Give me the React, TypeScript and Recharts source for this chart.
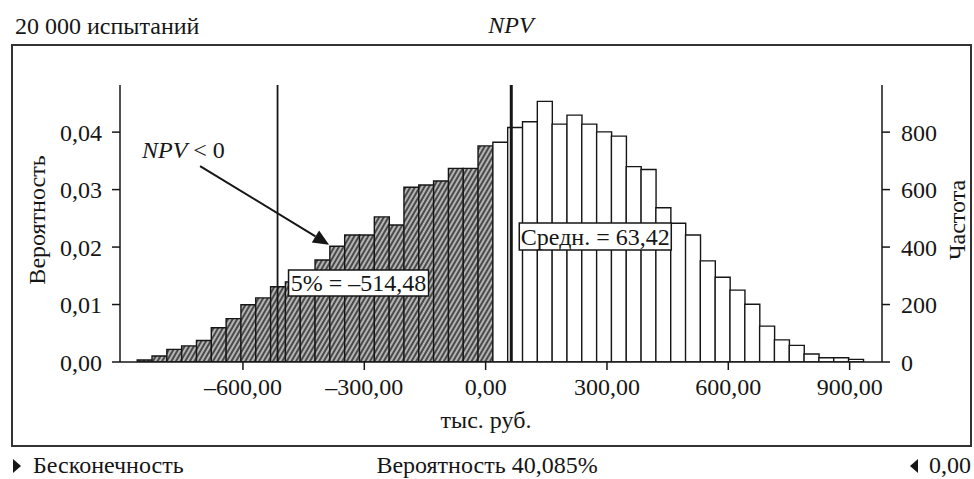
import React from 'react';
import {
  ComposedChart,
  Bar,
  Cell,
  XAxis,
  YAxis,
  ReferenceLine,
} from 'recharts';

// ---- data ----
const TRIALS = 20000;
// histogram bin centers (тыс. руб.)
const binCenters = [
  -843.2, -806.5, -769.9, -733.3, -696.6, -660.0, -623.3, -586.7, -550.1, -513.4,
  -476.8, -440.1, -403.5, -366.9, -330.2, -293.6, -256.9, -220.3, -183.7, -147.0,
  -110.4, -73.7, -37.1, -0.5, 36.2, 72.8, 109.5, 146.1, 182.7, 219.4,
  256.0, 292.7, 329.3, 365.9, 402.6, 439.2, 475.9, 512.5, 549.1, 585.8,
  622.4, 659.1, 695.7, 732.3, 769.0, 805.6, 842.3, 878.9, 915.5,
];
// frequency per bin (out of 20 000 trials)
const frequency = [
  7, 21, 44, 56, 75, 119, 151, 199, 223, 262,
  279, 300, 355, 403, 442, 442, 505, 477, 608, 616,
  630, 674, 674, 752, 765, 816, 836, 907, 828, 859,
  828, 801, 786, 680, 670, 537, 483, 442, 352, 295,
  250, 201, 125, 77, 58, 28, 15, 15, 9,
];
const xTicks = [-600, -300, 0, 300, 600, 900];
const probTicks = [0, 0.01, 0.02, 0.03, 0.04];
const freqTicks = [0, 200, 400, 600, 800];
const percentile5 = -514.48;
const meanValue = 63.42;
const arrowStart = { x: -706, y: 0.0341 };
const arrowEnd = { x: -387, y: 0.0204 };

const data = binCenters.map((c, i) => ({
  x: c,
  prob: frequency[i] / TRIALS,
  negative: c < 0,
}));

const FONT = 'Liberation Serif, DejaVu Serif, serif';
const FS = 24;
const INK = '#161616';

const fmtNum = (v: number, digits: number) => {
  const s = Math.abs(v).toFixed(digits).replace('.', ',');
  return v < 0 ? '\u2013' + s : s;
};

const BoxLabel = (props: any) => {
  const { viewBox, text, dx, top, w, h } = props;
  const x = viewBox.x + dx;
  return (
    <g>
      <rect x={x} y={top} width={w} height={h} fill="#fff" stroke={INK} strokeWidth={1.5} />
      <text
        x={x + w / 2}
        y={top + h / 2 + 8}
        textAnchor="middle"
        style={{ fontFamily: FONT, fontSize: FS }}
        fill={INK}
      >
        {text}
      </text>
    </g>
  );
};

const ArrowShape = (p: any) => {
  const { x1, y1, x2, y2 } = p;
  const ang = Math.atan2(y2 - y1, x2 - x1);
  const L = 16;
  const W = 7;
  const bx = x2 - L * Math.cos(ang);
  const by = y2 - L * Math.sin(ang);
  const px = -Math.sin(ang) * W;
  const py = Math.cos(ang) * W;
  return (
    <g>
      <line x1={x1} y1={y1} x2={bx} y2={by} stroke={INK} strokeWidth={2} />
      <polygon
        points={`${x2},${y2} ${bx + px},${by + py} ${bx - px},${by - py}`}
        fill={INK}
      />
    </g>
  );
};

const tickStyle = { fontFamily: FONT, fontSize: FS, fill: INK };

export default function App() {
  return (
    <div style={{ position: 'absolute', left: 0, top: 0, width: 974, height: 479, background: '#fff', fontFamily: FONT }}>
      <ComposedChart
        width={974}
        height={479}
        data={data}
        margin={{ top: 85, right: 32, bottom: 77, left: 60 }}
        barCategoryGap={0}
        barGap={0}
        style={{ fontFamily: FONT }}
      >
        <defs>
          <pattern
            id="hatch"
            patternUnits="userSpaceOnUse"
            width={4}
            height={4}
            patternTransform="rotate(30)"
          >
            <rect width={4} height={4} fill="#b4b4b4" />
            <line x1={1} y1={0} x2={1} y2={4} stroke="#2e2e2e" strokeWidth={1.6} />
          </pattern>
        </defs>
        <XAxis
          dataKey="x"
          type="number"
          domain={[-904, 980]}
          ticks={xTicks}
          allowDataOverflow
          height={40}
          tickSize={8}
          tickMargin={8}
          tickFormatter={(v: number) => fmtNum(v, 2)}
          tick={tickStyle}
          axisLine={{ stroke: INK, strokeWidth: 1.5 }}
          tickLine={{ stroke: INK, strokeWidth: 1.5 }}
        />
        <YAxis
          yAxisId="prob"
          orientation="left"
          type="number"
          domain={[0, 0.0482]}
          ticks={probTicks}
          allowDataOverflow
          width={60}
          tickSize={8}
          tickMargin={10}
          tickFormatter={(v: number) => fmtNum(v, 2)}
          tick={tickStyle}
          axisLine={{ stroke: INK, strokeWidth: 1.5 }}
          tickLine={{ stroke: INK, strokeWidth: 1.5 }}
        />
        <YAxis
          yAxisId="freq"
          orientation="right"
          type="number"
          domain={[0, 964]}
          ticks={freqTicks}
          allowDataOverflow
          width={60}
          tickSize={8}
          tickMargin={11}
          tick={tickStyle}
          axisLine={{ stroke: INK, strokeWidth: 1.5 }}
          tickLine={{ stroke: INK, strokeWidth: 1.5 }}
        />
        <Bar
          yAxisId="prob"
          dataKey="prob"
          isAnimationActive={false}
          stroke={INK}
          strokeWidth={1.4}
        >
          {data.map((d, i) => (
            <Cell key={i} fill={d.negative ? 'url(#hatch)' : '#ffffff'} />
          ))}
        </Bar>
        <ReferenceLine
          yAxisId="prob"
          x={percentile5}
          stroke={INK}
          strokeWidth={1.8}
          label={(props: any) => (
            <BoxLabel {...props} text={'5% = \u2013514,48'} dx={11} top={270} w={140} h={26} />
          )}
        />
        <ReferenceLine
          yAxisId="prob"
          x={meanValue}
          stroke={INK}
          strokeWidth={3}
          label={(props: any) => (
            <BoxLabel {...props} text="Средн. = 63,42" dx={8} top={223} w={152} h={27} />
          )}
        />
        <ReferenceLine
          yAxisId="prob"
          segment={[arrowStart, arrowEnd]}
          ifOverflow="visible"
          shape={ArrowShape}
        />
      </ComposedChart>
      <svg
        width={974}
        height={479}
        style={{ position: 'absolute', left: 0, top: 0, pointerEvents: 'none', fontFamily: FONT, fontSize: FS }}
        fill={INK}
      >
        <rect x={12} y={45} width={959} height={401} fill="none" stroke="#333" strokeWidth={2} />
        <text x={15} y={34}>20 000 испытаний</text>
        <text x={511} y={33} fontStyle="italic" textAnchor="middle">NPV</text>
        <text transform="translate(45,220) rotate(-90)" textAnchor="middle">Вероятность</text>
        <text transform="translate(965,220) rotate(-90)" textAnchor="middle">Частота</text>
        <text x={486} y={428} textAnchor="middle">тыс. руб.</text>
        <text x={142} y={158}>
          <tspan fontStyle="italic">NPV</tspan>
          <tspan> &lt; 0</tspan>
        </text>
        <polygon points="13,459 21,466 13,473" fill={INK} />
        <text x={33} y={473}>Бесконечность</text>
        <text x={487} y={473} textAnchor="middle">Вероятность 40,085%</text>
        <polygon points="918,459 910,466 918,473" fill={INK} />
        <text x={971} y={473} textAnchor="end">0,00</text>
      </svg>
    </div>
  );
}
